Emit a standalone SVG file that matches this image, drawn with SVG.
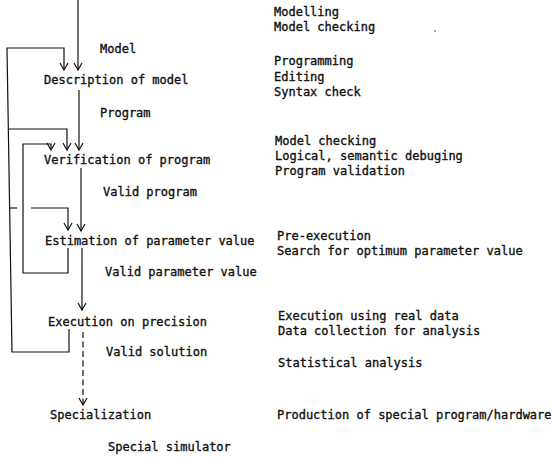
<svg xmlns="http://www.w3.org/2000/svg" width="553" height="458" viewBox="0 0 553 458">
<style>
text{font-family:"DejaVu Sans Mono","Liberation Mono",monospace;font-size:12px;fill:#111;stroke:#111;stroke-width:0.35}
.c{fill:none;stroke:#111;stroke-width:1.2}
.d{stroke-dasharray:6,3.5}
</style>
<defs>
<marker id="a" markerWidth="10" markerHeight="10" refX="0" refY="0" orient="auto" markerUnits="userSpaceOnUse" overflow="visible">
<path d="M-7,-4 L0,0 L-7,4" fill="none" stroke="#111" stroke-width="1.2"/>
</marker>
</defs>
<rect width="553" height="458" fill="#fff"/>
<g id="connectors">
<path class="c" d="M78,0 V70" marker-end="url(#a)"/>
<path class="c" d="M79,90 V150" marker-end="url(#a)"/>
<path class="c" d="M81,168 V231" marker-end="url(#a)"/>
<path class="c" d="M82,248 V310" marker-end="url(#a)"/>
<path class="c d" d="M83,332 V405" marker-end="url(#a)"/>
<path class="c" d="M69,329 V352 H12 L7,48 H64 V70" marker-end="url(#a)"/>
<path class="c" d="M8.3,129 H67 V150" marker-end="url(#a)"/>
<path class="c" d="M9.6,208 H17"/>
<path class="c" d="M31,208 H68 V230" marker-end="url(#a)"/>
<path class="c" d="M68,248 V273 H23 V144 H51 V150" marker-end="url(#a)"/>
</g>
<g id="n-description"><text x="44" y="84">Description of model</text></g>
<g id="n-verification"><text x="44" y="164">Verification of program</text></g>
<g id="n-estimation"><text x="45" y="245">Estimation of parameter value</text></g>
<g id="n-execution"><text x="48" y="326">Execution on precision</text></g>
<g id="n-specialization"><text x="50" y="419">Specialization</text></g>
<g id="edge-labels">
<text x="100" y="53">Model</text>
<text x="100" y="117">Program</text>
<text x="103" y="196">Valid program</text>
<text x="105" y="276">Valid parameter value</text>
<text x="106" y="356">Valid solution</text>
<text x="108" y="451">Special simulator</text>
</g>
<g id="activities">
<text x="274" y="16">Modelling</text>
<text x="274" y="31">Model checking</text>
<text x="274" y="65">Programming</text>
<text x="274" y="81">Editing</text>
<text x="274" y="96">Syntax check</text>
<text x="275" y="145">Model checking</text>
<text x="275" y="160">Logical, semantic debuging</text>
<text x="275" y="175">Program validation</text>
<text x="277" y="240">Pre-execution</text>
<text x="277" y="255">Search for optimum parameter value</text>
<text x="278" y="320">Execution using real data</text>
<text x="278" y="335">Data collection for analysis</text>
<text x="278" y="367">Statistical analysis</text>
<text x="277" y="419">Production of special program/hardware</text>
</g>
<circle cx="435" cy="31" r="0.8" fill="#333"/>
</svg>
